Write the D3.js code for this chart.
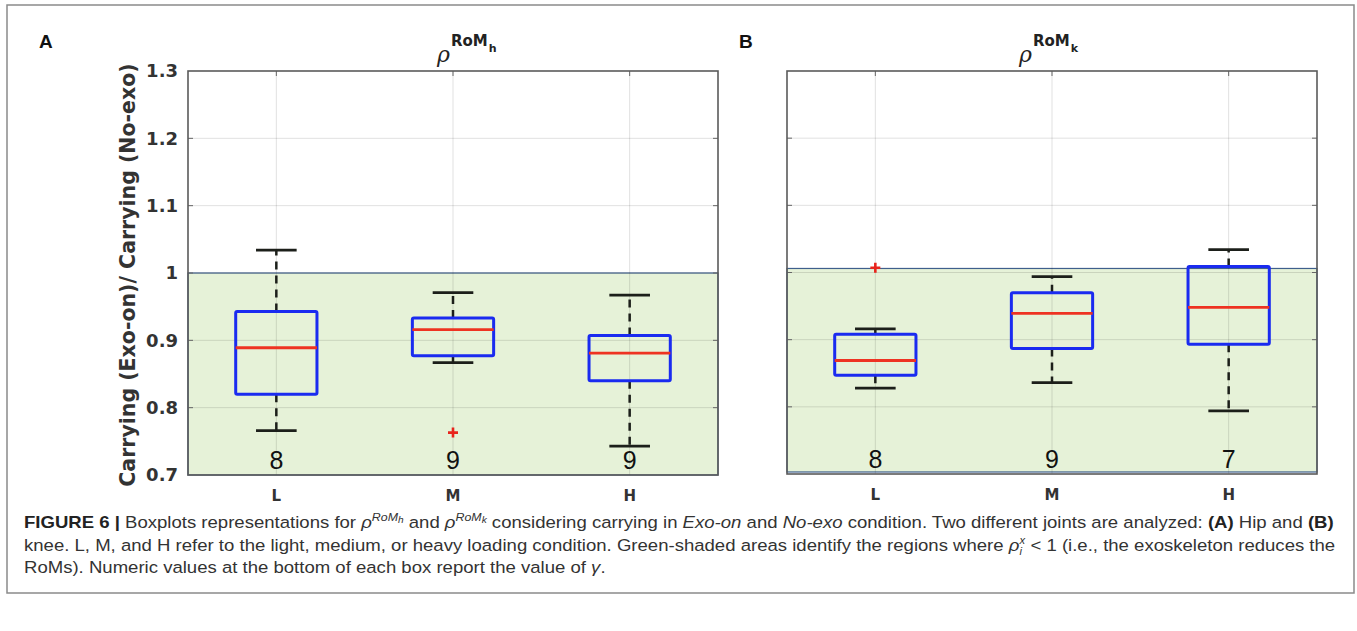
<!DOCTYPE html>
<html lang="en">
<head>
<meta charset="UTF-8">
<title>Figure 6</title>
<script src="https://cdnjs.cloudflare.com/ajax/libs/d3/7.8.5/d3.min.js"></script>
<style>
    body { margin: 0; background: #fff; }
    svg { display: block; }
    .tick-lbl { font-family: "DejaVu Sans", sans-serif; font-weight: bold; fill: #333; }
    .caption { font-family: "Liberation Sans", Arial, sans-serif; fill: #333; font-size: 16.5px; }
</style>
</head>
<body>
<svg id="fig" width="1357" height="631"></svg>
<script>
    // categories and tick labels
    var categories = ["L", "M", "H"];
    var yTicks = [0.7, 0.8, 0.9, 1.0, 1.1, 1.2, 1.3];

    // panel A: hip
    var hipWhiskerHi = [1.034, 0.971, 0.967];
    var hipQ3        = [0.943, 0.933, 0.907];
    var hipMedian    = [0.889, 0.916, 0.881];
    var hipQ1        = [0.820, 0.877, 0.840];
    var hipWhiskerLo = [0.766, 0.867, 0.743];
    var hipOutliers  = [[], [0.763], []];
    var hipGamma     = [8, 9, 9];
    var hipShade     = [0.7, 1.0];

    // panel B: knee
    var kneeWhiskerHi = [0.916, 0.994, 1.034];
    var kneeQ3        = [0.908, 0.970, 1.009];
    var kneeMedian    = [0.869, 0.939, 0.948];
    var kneeQ1        = [0.847, 0.887, 0.893];
    var kneeWhiskerLo = [0.828, 0.836, 0.794];
    var kneeOutliers  = [[1.007], [], []];
    var kneeGamma     = [8, 9, 7];
    var kneeShade     = [0.703, 1.006];

    var svg = d3.select("#fig");

    // outer frame
    svg.append("rect").attr("x", 7).attr("y", 5).attr("width", 1347).attr("height", 588)
        .attr("fill", "none").attr("stroke", "#8a8a8a").attr("stroke-width", 1.5);

    function panel(opt) {
        var x = d3.scaleBand().domain(categories).range([opt.left, opt.right]);
        var y = d3.scaleLinear().domain([0.7, 1.3]).range([opt.bottom, opt.top]);
        var g = svg.append("g");
        var bw = x.bandwidth() * 0.46;

        // green region
        g.append("rect")
            .attr("x", opt.left).attr("width", opt.right - opt.left)
            .attr("y", y(opt.shade[1])).attr("height", y(opt.shade[0]) - y(opt.shade[1]))
            .attr("fill", "#e6f2d8").attr("stroke", "#3f5f8c").attr("stroke-width", 1.2);

        // grid
        g.selectAll(".hgrid").data(yTicks.slice(1, -1)).enter().append("line")
            .attr("x1", opt.left).attr("x2", opt.right)
            .attr("y1", function(d) { return y(d); }).attr("y2", function(d) { return y(d); })
            .attr("stroke", "#000").attr("stroke-opacity", 0.12).attr("stroke-width", 1);
        g.selectAll(".vgrid").data(categories).enter().append("line")
            .attr("x1", function(d) { return x(d) + x.bandwidth() / 2; })
            .attr("x2", function(d) { return x(d) + x.bandwidth() / 2; })
            .attr("y1", opt.top).attr("y2", opt.bottom)
            .attr("stroke", "#000").attr("stroke-opacity", 0.12).attr("stroke-width", 1);

        // ticks inside box (left, right, top)
        yTicks.slice(1, -1).forEach(function(t) {
            g.append("line").attr("x1", opt.left).attr("x2", opt.left + 5).attr("y1", y(t)).attr("y2", y(t))
                .attr("stroke", "#666").attr("stroke-width", 1);
            g.append("line").attr("x1", opt.right).attr("x2", opt.right - 5).attr("y1", y(t)).attr("y2", y(t))
                .attr("stroke", "#666").attr("stroke-width", 1);
        });
        categories.forEach(function(c) {
            var cx = x(c) + x.bandwidth() / 2;
            g.append("line").attr("x1", cx).attr("x2", cx).attr("y1", opt.top).attr("y2", opt.top + 5)
                .attr("stroke", "#666").attr("stroke-width", 1);
        });

        // axes box
        g.append("rect").attr("x", opt.left).attr("y", opt.top)
            .attr("width", opt.right - opt.left).attr("height", opt.bottom - opt.top)
            .attr("fill", "none").attr("stroke", "#5a5a5a").attr("stroke-width", 1.6);

        // y tick labels
        if (opt.yLabels) {
            g.selectAll(".ylbl").data(yTicks).enter().append("text")
                .attr("class", "tick-lbl")
                .attr("x", opt.left - 10).attr("y", function(d) { return y(d); })
                .attr("dy", "0.36em").attr("text-anchor", "end").style("font-size", "18px")
                .text(function(d) { return String(+d.toFixed(1)); });
            g.append("text").attr("class", "tick-lbl")
                .attr("transform", "translate(" + (opt.left - 53) + "," + ((opt.top + opt.bottom) / 2 + 2) + ") rotate(-90)")
                .attr("text-anchor", "middle").style("font-size", "20.5px")
                .text("Carrying (Exo-on)/ Carrying (No-exo)");
        }

        // x tick labels
        g.selectAll(".xlbl").data(categories).enter().append("text")
            .attr("class", "tick-lbl")
            .attr("x", function(d) { return x(d) + x.bandwidth() / 2; })
            .attr("y", opt.bottom + 26).attr("text-anchor", "middle").style("font-size", "15px")
            .text(function(d) { return d; });

        // boxes
        categories.forEach(function(c, i) {
            var cx = x(c) + x.bandwidth() / 2;
            var dash = "8,6";
            g.append("line").attr("x1", cx).attr("x2", cx)
                .attr("y1", y(opt.q3[i])).attr("y2", y(opt.hi[i]))
                .attr("stroke", "#1c1f1a").attr("stroke-width", 2.5).attr("stroke-dasharray", dash);
            g.append("line").attr("x1", cx).attr("x2", cx)
                .attr("y1", y(opt.q1[i])).attr("y2", y(opt.lo[i]))
                .attr("stroke", "#1c1f1a").attr("stroke-width", 2.5).attr("stroke-dasharray", dash);
            [opt.hi[i], opt.lo[i]].forEach(function(v) {
                g.append("line").attr("x1", cx - bw / 4).attr("x2", cx + bw / 4)
                    .attr("y1", y(v)).attr("y2", y(v))
                    .attr("stroke", "#1c1f1a").attr("stroke-width", 2.8);
            });
            g.append("rect").attr("x", cx - bw / 2).attr("width", bw)
                .attr("y", y(opt.q3[i])).attr("height", y(opt.q1[i]) - y(opt.q3[i]))
                .attr("fill", "none").attr("stroke", "#1a2bf0").attr("stroke-width", 3)
                .attr("rx", 1.5);
            g.append("line").attr("x1", cx - bw / 2).attr("x2", cx + bw / 2)
                .attr("y1", y(opt.med[i])).attr("y2", y(opt.med[i]))
                .attr("stroke", "#ee3322").attr("stroke-width", 2.8);
            opt.out[i].forEach(function(v) {
                g.append("path")
                    .attr("d", "M" + (cx - 5) + "," + y(v) + "H" + (cx + 5) + "M" + cx + "," + (y(v) - 5) + "V" + (y(v) + 5))
                    .attr("stroke", "#e8241c").attr("stroke-width", 2.6);
            });
            g.append("text").attr("x", cx).attr("y", opt.bottom - 6)
                .attr("text-anchor", "middle")
                .style("font-family", "'Liberation Sans', Arial, sans-serif").style("font-size", "25px").attr("fill", "#111")
                .text(opt.gamma[i]);
        });

        // title rho^{RoM_sub}
        var cxm = (opt.left + opt.right) / 2;
        var t = g.append("text").attr("x", cxm + opt.titleDx).attr("y", 62);
        t.append("tspan").style("font-family", "'DejaVu Serif', serif").style("font-style", "italic")
            .style("font-size", "22px").attr("fill", "#222").text("ρ");
        t.append("tspan").attr("dy", -16).attr("dx", 1).style("font-family", "'DejaVu Sans', sans-serif")
            .style("font-weight", "bold").style("font-size", "15px").attr("fill", "#222").text("RoM");
        t.append("tspan").attr("dy", 6).attr("dx", 1).style("font-family", "'DejaVu Sans', sans-serif")
            .style("font-weight", "bold").style("font-size", "11px").attr("fill", "#222").text(opt.sub);

        // panel letter
        svg.append("text").attr("x", opt.letterX).attr("y", 48)
            .style("font-family", "'Liberation Sans', Arial, sans-serif").style("font-weight", "bold")
            .style("font-size", "19px").attr("fill", "#111").text(opt.letter);
    }

    panel({ left: 188, right: 718, top: 71, bottom: 475, yLabels: true, titleDx: -16,
        hi: hipWhiskerHi, q3: hipQ3, med: hipMedian, q1: hipQ1, lo: hipWhiskerLo,
        out: hipOutliers, gamma: hipGamma, shade: hipShade, sub: "h", letter: "A", letterX: 39 });
    panel({ left: 787, right: 1317, top: 71, bottom: 474, yLabels: false, titleDx: -33,
        hi: kneeWhiskerHi, q3: kneeQ3, med: kneeMedian, q1: kneeQ1, lo: kneeWhiskerLo,
        out: kneeOutliers, gamma: kneeGamma, shade: kneeShade, sub: "k", letter: "B", letterX: 739 });

    // caption: one horizontal squeeze for all lines (condensed face), taken from line 1
    var cap = svg.append("g").attr("class", "caption");
    var capScale = null;
    function line(yy, width, parts) {
        var t = cap.append("text").attr("x", 0).attr("y", 0);
        parts.forEach(function(p) {
            var s = t.append("tspan").text(p.t);
            if (p.b) s.style("font-weight", "bold").attr("fill", "#222");
            if (p.i) s.style("font-style", "italic");
            if (p.dy) s.attr("dy", p.dy);
            if (p.dx) s.attr("dx", p.dx);
            if (p.fs) s.style("font-size", p.fs);
        });
        if (capScale === null) capScale = width / t.node().getComputedTextLength();
        t.attr("transform", "translate(24," + yy + ") scale(" + capScale + ",1)");
    }
    line(528, 1311, [
        { t: "FIGURE 6 | ", b: true },
        { t: "Boxplots representations for " },
        { t: "ρ", i: true },
        { t: "RoM", i: true, dy: -7, fs: "11px" },
        { t: "h", i: true, fs: "9px", dy: 2 },
        { t: " and ", dy: 5 },
        { t: "ρ", i: true },
        { t: "RoM", i: true, dy: -7, fs: "11px" },
        { t: "k", i: true, fs: "9px", dy: 2 },
        { t: " considering carrying in ", dy: 5 },
        { t: "Exo-on", i: true },
        { t: " and " },
        { t: "No-exo", i: true },
        { t: " condition. Two different joints are analyzed: " },
        { t: "(A)", b: true },
        { t: " Hip and " },
        { t: "(B)", b: true }
    ]);
    line(551, 1295, [
        { t: "knee. L, M, and H refer to the light, medium, or heavy loading condition. Green-shaded areas identify the regions where " },
        { t: "ρ", i: true },
        { t: "x", i: true, dy: -7, fs: "10px" },
        { t: "i", i: true, dy: 11, fs: "10px", dx: -5 },
        { t: " < 1 (i.e., the exoskeleton reduces the", dy: -4, dx: 3 }
    ]);
    line(573, 439, [
        { t: "RoMs). Numeric values at the bottom of each box report the value of " },
        { t: "γ", i: true },
        { t: "." }
    ]);
</script>
</body>
</html>
